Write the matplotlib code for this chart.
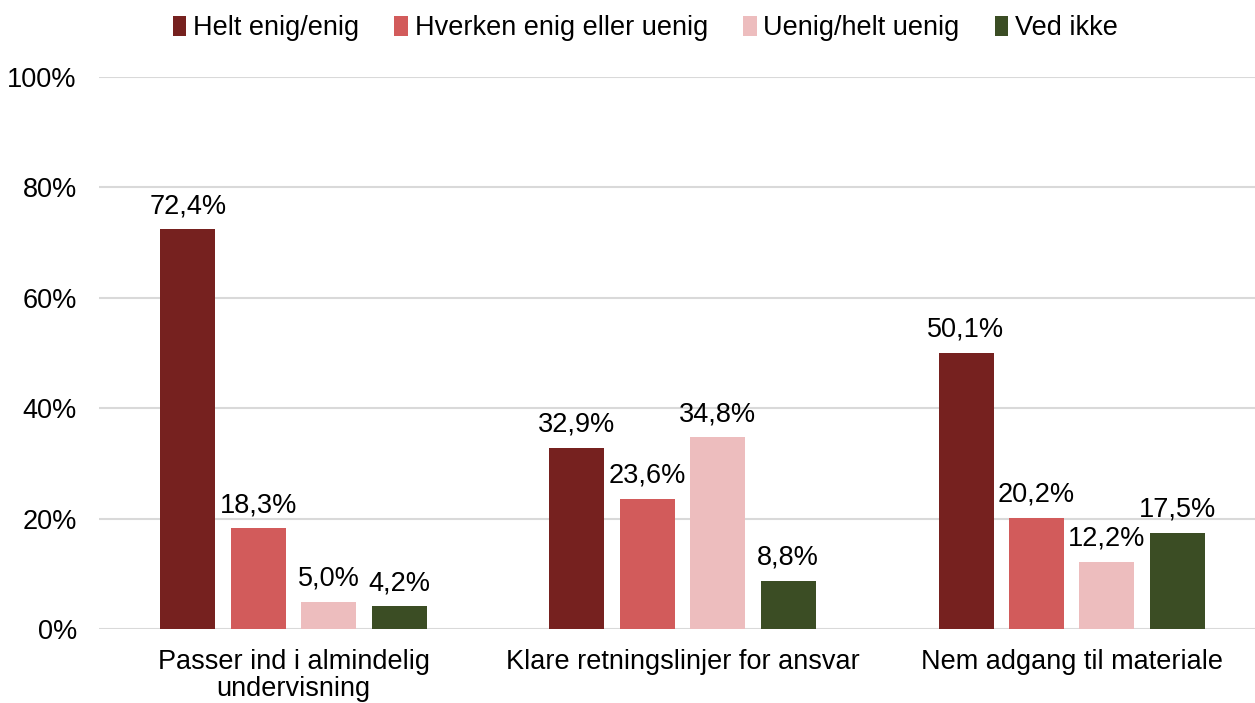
import matplotlib.pyplot as plt
import numpy as np

plt.rcParams['font.family'] = ['Liberation Sans', 'DejaVu Sans']

categories = ['Passer ind i almindelig\nundervisning',
              'Klare retningslinjer for ansvar',
              'Nem adgang til materiale']
series = ['Helt enig/enig', 'Hverken enig eller uenig',
          'Uenig/helt uenig', 'Ved ikke']
values = [
    [72.4, 32.9, 50.1],
    [18.3, 23.6, 20.2],
    [5.0, 34.8, 12.2],
    [4.2, 8.8, 17.5],
]
colors = ['#76211F', '#D25B5B', '#EDBDBE', '#3B4D24']

fs = 19.5
fig = plt.figure(figsize=(12.55, 7.03), dpi=100)
ax = fig.add_axes([0.0789, 0.105, 0.93, 0.7855])

x = np.arange(len(categories))
width = 0.1414
step = 0.181
for i, (name, vals) in enumerate(zip(series, values)):
    pos = x + (i - 1.5) * step
    bars = ax.bar(pos, vals, width, color=colors[i], label=name, zorder=3)
    for b, v in zip(bars, vals):
        ax.text(b.get_x() + b.get_width() / 2, v + 1.8,
                f'{v:.1f}%'.replace('.', ','),
                ha='center', va='bottom', fontsize=fs)

ax.set_xlim(-0.5, 2.5)
ax.set_ylim(0, 100)
ax.set_yticks(range(0, 101, 20))
ax.set_yticklabels([f'{t}%' for t in range(0, 101, 20)], fontsize=fs)
ax.set_xticks(x)
ax.set_xticklabels(categories, fontsize=fs, linespacing=1.05)
ax.grid(axis='y', color='#D9D9D9', linewidth=1.5, zorder=0)
for s in ax.spines.values():
    s.set_visible(False)
ax.tick_params(axis='both', length=0)
ax.tick_params(axis='y', pad=16)
ax.tick_params(axis='x', pad=14)

leg = ax.legend(loc='center', bbox_to_anchor=(0.468, 1.088),
                bbox_transform=ax.transAxes,
                ncol=4, frameon=False, fontsize=fs, handlelength=0.5,
                handleheight=0.8, handletextpad=0.25, columnspacing=1.3)

fig.savefig('out.png', dpi=100)
